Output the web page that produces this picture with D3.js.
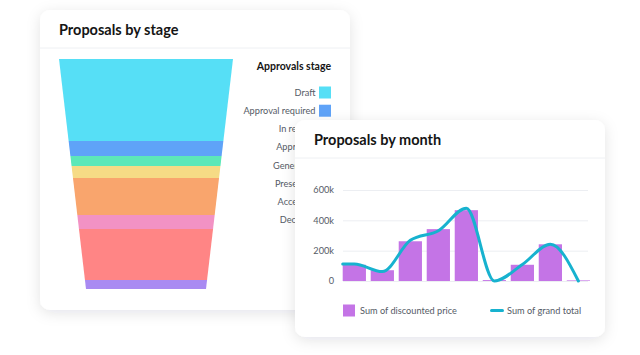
<!DOCTYPE html>
<html>
<head>
<meta charset="utf-8">
<script src="https://cdn.jsdelivr.net/npm/d3@7"></script>
<style>
  html, body { margin: 0; padding: 0; background: #ffffff; }
  svg { display: block; font-family: Lato, "Open Sans", sans-serif; }
</style>
</head>
<body>
<svg id="chart" width="640" height="355"></svg>
<script>
// ---- Data ----
const stages = ["Draft", "Approval required", "In review", "Approved", "Generated", "Presented", "Accepted", "Declined"];
const stageCounts = [82, 15, 10, 12, 37, 14, 51, 9];
const stageColors = ["#56dff6", "#5fa3f8", "#5ce8b8", "#f6db85", "#f9a56d", "#f292c4", "#ff8585", "#a98af2"];

const months = ["Jan", "Feb", "Mar", "Apr", "May", "Jun", "Jul", "Aug", "Sep"];
const discountedPrice = [107000, 71000, 262000, 342000, 467000, 6000, 107000, 242000, 4000];
const grandTotal = [112000, 62000, 268000, 331000, 480000, 0, 109000, 242000, 0];
const yTicks = [0, 200000, 400000, 600000];
const yTickLabels = ["0", "200k", "400k", "600k"];

const barColor = "#c474e6";
const lineColor = "#17b2cf";

const svg = d3.select("#chart");
const defs = svg.append("defs");
const f = defs.append("filter").attr("id", "shadow").attr("x", "-20%").attr("y", "-20%").attr("width", "140%").attr("height", "140%");
f.append("feDropShadow").attr("dx", 0).attr("dy", 3).attr("stdDeviation", 7)
  .attr("flood-color", "#1a2440").attr("flood-opacity", 0.11);
// the part of card 1 that is not covered by card 2
defs.append("clipPath").attr("id", "legclip")
  .append("path").attr("d", "M40,10H350V120H295V310H40Z");

function card(x, y, w, h, headerH, title, titleX, titleY) {
  const g = svg.append("g");
  g.append("rect").attr("x", x).attr("y", y).attr("width", w).attr("height", h)
    .attr("rx", 10).attr("fill", "#ffffff").attr("filter", "url(#shadow)");
  g.append("line").attr("x1", x).attr("x2", x + w).attr("y1", y + headerH).attr("y2", y + headerH)
    .attr("stroke", "#eef0f3").attr("stroke-width", 1);
  g.append("text").attr("x", titleX).attr("y", titleY).text(title)
    .attr("font-size", 14.5).attr("font-weight", 700).attr("fill", "#151515");
  return g;
}

// ---- Card 1: funnel ----
const c1 = card(40, 10, 310, 300, 38, "Proposals by stage", 59, 34.5);

const total = d3.sum(stageCounts);
const cum = [0];
stageCounts.forEach((v, i) => cum.push(cum[i] + v));
const fy = d3.scaleLinear().domain([0, total]).range([59, 289]);
const fHalf = d3.scaleLinear().domain([59, 289]).range([87, 60]);
const fcx = 146;

c1.selectAll("path.band").data(stageCounts).join("path")
  .attr("class", "band")
  .attr("fill", (d, i) => stageColors[i])
  .attr("d", (d, i) => {
    const y0 = fy(cum[i]), y1 = fy(cum[i + 1]);
    const h0 = fHalf(y0), h1 = fHalf(y1);
    return `M${fcx - h0},${y0}L${fcx + h0},${y0}L${fcx + h1},${y1}L${fcx - h1},${y1}Z`;
  });

c1.append("text").attr("x", 331).attr("y", 69.5).attr("text-anchor", "end")
  .attr("font-size", 10.5).attr("font-weight", 700).attr("fill", "#151515").text("Approvals stage");

const legY = d3.scalePoint().domain(stages).range([92.5, 220]);
const leg = c1.append("g").attr("clip-path", "url(#legclip)");
leg.selectAll("rect").data(stages).join("rect")
  .attr("x", 319).attr("y", d => legY(d) - 6).attr("width", 12).attr("height", 12)
  .attr("fill", (d, i) => stageColors[i]);
leg.selectAll("text").data(stages).join("text")
  .attr("x", 315.5).attr("y", d => legY(d)).attr("dy", "0.35em").attr("text-anchor", "end")
  .attr("font-size", 9.2).attr("fill", "#555b66").text(d => d);

// ---- Card 2: bars + line ----
const c2 = card(295, 120, 310, 217, 38, "Proposals by month", 314, 145);

const y = d3.scaleLinear().domain([0, 600000]).range([281, 190]);
const x = d3.scaleBand().domain(months).range([342.7, 590]).paddingInner(0.17).paddingOuter(0);

const yAxis = d3.axisLeft(y).tickValues(yTicks).tickFormat((d, i) => yTickLabels[i])
  .tickSize(-(588 - 343)).tickPadding(9);
const ag = c2.append("g").attr("transform", "translate(343,0)").call(yAxis);
ag.select(".domain").remove();
ag.selectAll(".tick line").attr("stroke", "#eceef2");
ag.selectAll(".tick text").attr("font-size", 9.2).attr("fill", "#555b66")
  .attr("font-family", "Lato, 'Open Sans', sans-serif");

c2.selectAll("rect.bar").data(discountedPrice).join("rect").attr("class", "bar")
  .attr("x", (d, i) => x(months[i])).attr("width", x.bandwidth())
  .attr("y", d => y(d)).attr("height", d => y(0) - y(d)).attr("fill", barColor);

// line: points at band centres, starting from the left edge of the first band
const linePts = [{ px: x(months[0]), v: grandTotal[0] }]
  .concat(grandTotal.map((v, i) => ({ px: x(months[i]) + x.bandwidth() / 2, v })));
const line = d3.line().x(d => d.px).y(d => y(d.v)).curve(d3.curveMonotoneX);
c2.append("path").datum(linePts).attr("d", line).attr("fill", "none")
  .attr("stroke", lineColor).attr("stroke-width", 3).attr("stroke-linejoin", "round").attr("stroke-linecap", "round");

// legend
c2.append("rect").attr("x", 343).attr("y", 304.5).attr("width", 12).attr("height", 12).attr("fill", barColor);
c2.append("text").attr("x", 360).attr("y", 310.5).attr("dy", "0.35em").attr("font-size", 9.2)
  .attr("fill", "#555b66").text("Sum of discounted price");
c2.append("line").attr("x1", 491.5).attr("x2", 502.5).attr("y1", 310.5).attr("y2", 310.5)
  .attr("stroke", lineColor).attr("stroke-width", 3).attr("stroke-linecap", "round");
c2.append("text").attr("x", 507).attr("y", 310.5).attr("dy", "0.35em").attr("font-size", 9.2)
  .attr("fill", "#555b66").text("Sum of grand total");
</script>
</body>
</html>
